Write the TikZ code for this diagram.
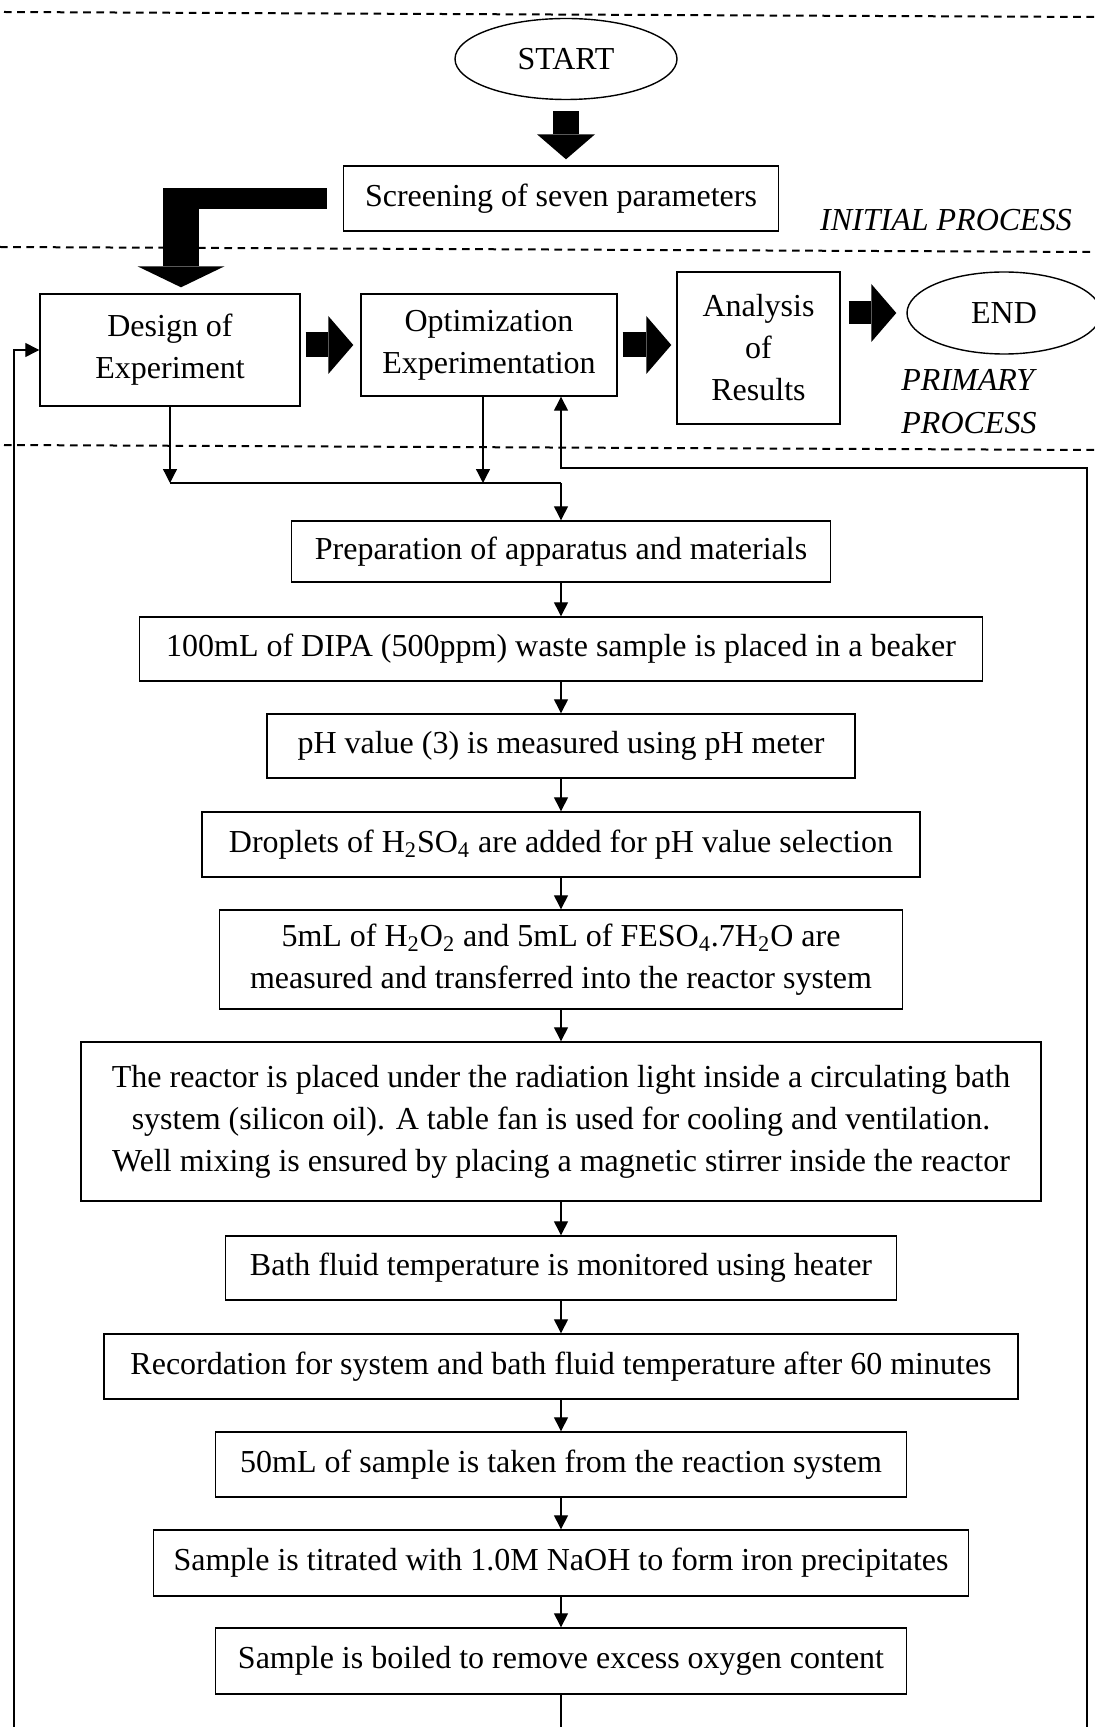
\documentclass[tikz,border=0pt]{standalone}
\usepackage{fontspec}
\setmainfont{Liberation Serif}
\usetikzlibrary{arrows.meta}
\usetikzlibrary{shapes.geometric}

\begin{document}
\begin{tikzpicture}[
        x=0.5pt, y=-0.5pt,
        every node/.style={font=\fontsize{16}{21}\selectfont},
        flowbox/.style={draw, line width=0.7pt, align=center, inner sep=0pt},
        termoval/.style={draw, ellipse, line width=0.7pt, inner sep=0pt},
        thinarrow/.style={-{Triangle[length=7pt, width=7pt]}, line width=0.65pt},
        thinline/.style={line width=0.65pt},
        blockarrow/.style={line width=12.5pt, -{Triangle[length=12.5pt, width=29pt, line width=0pt]}},
        sepline/.style={line width=1pt, dash pattern=on 3.8pt off 2.8pt},
        zonelabel/.style={font=\fontsize{16}{21.5}\selectfont\itshape, align=left}
    ]

        \def\ColX{561}

        \useasboundingbox (0,0) rectangle (1095,1727);

        % -------------------------------------------------
        % Separadores de zonas
        % -------------------------------------------------
        \draw[sepline] (4,12) -- (1095,17);
        \draw[sepline] (0,247) -- (1095,252);
        \draw[sepline] (4,445) -- (1095,450);

        % -------------------------------------------------
        % 1. Initial process
        % -------------------------------------------------
        \node[termoval, minimum width=111pt, minimum height=40.5pt] (start) at (566,59) {START};
        \node[flowbox, minimum width=217.5pt, minimum height=32.5pt] (screen) at (\ColX,198.5) {Screening of seven parameters};
        \node[zonelabel] (initial) at (946,220) {INITIAL PROCESS};

        \draw[blockarrow, line width=13pt, shorten <=5.5pt, shorten >=3pt] (start.south) -- (start.south |- screen.north);

        % -------------------------------------------------
        % 2. Primary process
        % -------------------------------------------------
        \node[flowbox, minimum width=130pt, minimum height=56pt] (design) at (170,350) {Design of\\Experiment};
        \node[flowbox, minimum width=128pt, minimum height=51pt] (optim) at (489,345) {Optimization\\Experimentation};
        \node[flowbox, minimum width=81.5pt, minimum height=76pt] (analysis) at (758.5,348) {Analysis\\of\\Results};
        \node[termoval, minimum width=97pt, minimum height=41pt] (finish) at (1004,313) {END};
        \node[zonelabel, anchor=west, inner sep=0pt] (primary) at (901,402) {PRIMARY\\PROCESS};

        % Flecha en L
        \coordinate (bend) at (181,201);
        \draw[line width=10.5pt] ([xshift=-8pt]screen.west) -- ([xshift=-9pt]bend |- screen.west);
        \draw[line width=18pt, -{Triangle[length=10.5pt, width=43.5pt, line width=0pt]}]
            ([yshift=5.25pt]bend |- screen.west) -- ([yshift=3pt]bend |- design.north);

        % Flechas gruesas
        \draw[blockarrow] ([xshift=2.5pt]design.east |- optim.west) -- ([xshift=-3.5pt]optim.west);
        \draw[blockarrow] ([xshift=2.5pt]optim.east) -- ([xshift=-2.5pt]optim.east -| analysis.west);
        \draw[blockarrow, line width=11.5pt] ([xshift=4pt]analysis.east |- finish.west) -- ([xshift=-5pt]finish.west);

        % -------------------------------------------------
        % 3. Experimental procedure
        % -------------------------------------------------
        \node[flowbox, minimum width=269.5pt, minimum height=30.5pt] (prep) at (\ColX,551.5) {Preparation of apparatus and materials};
        \node[flowbox, minimum width=421.5pt, minimum height=32pt] (dipa) at (\ColX,649) {100mL of DIPA (500ppm) waste sample is placed in a beaker};
        \node[flowbox, minimum width=294pt, minimum height=32pt] (phval) at (\ColX,746) {pH value (3) is measured using pH meter};
        \node[flowbox, minimum width=359pt, minimum height=32.5pt] (acid) at (\ColX,844.5) {Droplets of H\textsubscript{2}SO\textsubscript{4} are added for pH value selection};
        \node[flowbox, minimum width=341.5pt, minimum height=49.5pt] (reagent) at (\ColX,959.5) {5mL of H\textsubscript{2}O\textsubscript{2} and 5mL of FESO\textsubscript{4}.7H\textsubscript{2}O are\\measured and transferred into the reactor system};
        \node[flowbox, minimum width=480pt, minimum height=79.5pt] (reactor) at (\ColX,1121.5) {The reactor is placed under the radiation light inside a circulating bath\\system (silicon oil). A table fan is used for cooling and ventilation.\\Well mixing is ensured by placing a magnetic stirrer inside the reactor};
        \node[flowbox, minimum width=335.5pt, minimum height=32pt] (bath) at (\ColX,1268) {Bath fluid temperature is monitored using heater};
        \node[flowbox, minimum width=457pt, minimum height=32.5pt] (record) at (\ColX,1366.5) {Recordation for system and bath fluid temperature after 60 minutes};
        \node[flowbox, minimum width=345.5pt, minimum height=32.5pt] (sample) at (\ColX,1464.5) {50mL of sample is taken from the reaction system};
        \node[flowbox, minimum width=407.5pt, minimum height=33pt] (titrate) at (\ColX,1563) {Sample is titrated with 1.0M NaOH to form iron precipitates};
        \node[flowbox, minimum width=345.5pt, minimum height=33pt] (boil) at (\ColX,1661) {Sample is boiled to remove excess oxygen content};

        \foreach \a/\b in {prep/dipa, dipa/phval, phval/acid, acid/reagent, reagent/reactor,
                           reactor/bath, bath/record, record/sample, sample/titrate, titrate/boil} {
            \draw[thinarrow] (\a.south) -- (\b.north);
        }

        % Union de las dos salidas
        \coordinate (merge) at (\ColX,483);
        \draw[thinarrow] (design.south) -- (design.south |- merge);
        \draw[thinarrow] ([xshift=-3pt]optim.south) -- ([xshift=-3pt]optim.south |- merge);
        \draw[thinline] (design.south |- merge) -- (merge);
        \draw[thinarrow] (merge) -- (prep.north);

        % Retornos
        \coordinate (tail) at (\ColX,1727);
        \draw[thinline] (boil.south) -- (tail);
        \coordinate (loopR) at (1087,1727);
        \coordinate (loopTop) at (\ColX,468);
        \draw[thinarrow] (loopR) |- (loopTop) -- (loopTop |- optim.south);
        \coordinate (loopL) at (14,1727);
        \draw[thinarrow] (loopL) |- (design.west);

    \end{tikzpicture}
\end{document}
